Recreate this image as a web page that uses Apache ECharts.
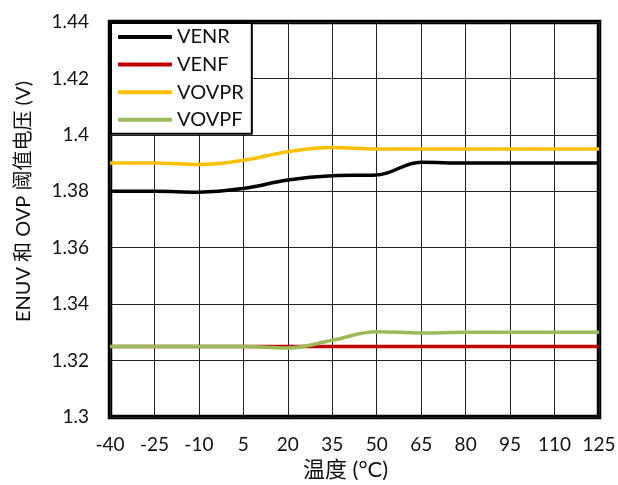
<!DOCTYPE html>
<html>
<head>
<meta charset="utf-8">
<script src="https://cdn.jsdelivr.net/npm/echarts@6/dist/echarts.min.js"></script>
<style>
html,body{margin:0;padding:0;background:#fff;}
#c{width:618px;height:485px;}
</style>
</head>
<body>
<div id="c"></div>
<script>
const temps = ['-40','-25','-10','5','20','35','50','65','80','95','110','125'];
const VENR  = [1.380, 1.380, 1.3797, 1.381, 1.384, 1.3855, 1.3858, 1.3903, 1.390, 1.390, 1.390, 1.390];
const VENF  = [1.325, 1.325, 1.325, 1.325, 1.325, 1.325, 1.325, 1.325, 1.325, 1.325, 1.325, 1.325];
const VOVPR = [1.390, 1.390, 1.3895, 1.391, 1.394, 1.3955, 1.395, 1.395, 1.395, 1.395, 1.395, 1.395];
const VOVPF = [1.325, 1.325, 1.325, 1.325, 1.3245, 1.3272, 1.3302, 1.3298, 1.330, 1.330, 1.330, 1.330];
const yTicks = ['1.3','1.32','1.34','1.36','1.38','1.4','1.42','1.44'];

const font = 'Lato, "Noto Sans CJK SC", sans-serif';
const chart = echarts.init(document.getElementById('c'), null, {renderer:'canvas'});
function mk(name, data, color){
  return {name, type:'line', data, smooth:0.4, symbol:'none',
    lineStyle:{color, width:3.5}, itemStyle:{color}};
}
chart.setOption({
  animation:false,
  backgroundColor:'#fff',
  grid:{left:110, right:19, top:22, bottom:68, outerBoundsMode:'none', containLabel:false,
    show:true, borderColor:'#000', borderWidth:4.5, backgroundColor:'transparent'},
  legend:{
    orient:'vertical', left:111, top:23,
    backgroundColor:'#fff', borderColor:'#000', borderWidth:2,
    padding:[4,8,4,7], itemGap:7.6, itemWidth:54, itemHeight:4,
    icon:'roundRect',
    textStyle:{fontFamily:font, fontSize:20, color:'#111', lineHeight:20},
    data:['VENR','VENF','VOVPR','VOVPF']
  },
  xAxis:{
    type:'category', data:temps, boundaryGap:false,
    name:'温度 (°C)', nameLocation:'middle', nameGap:42,
    nameTextStyle:{fontFamily:font, fontSize:22, color:'#111', padding:[0,18,0,0]},
    axisLine:{show:false}, axisTick:{show:false},
    axisLabel:{fontFamily:font, fontSize:19, color:'#111', margin:18, interval:0},
    splitLine:{show:true, lineStyle:{color:'#222', width:1}}
  },
  yAxis:{
    type:'value', min:1.3, max:1.44, interval:0.02,
    name:'ENUV 和 OVP 阈值电压 (V)', nameLocation:'middle', nameGap:76,
    nameTextStyle:{fontFamily:font, fontSize:20, color:'#111', padding:[0,0,0,36]},
    axisLine:{show:false}, axisTick:{show:false},
    axisLabel:{fontFamily:font, fontSize:19, color:'#111', margin:21,
      formatter:function(v){ const i = Math.round((v-1.3)/0.02); return yTicks[i] !== undefined ? yTicks[i] : ''; }},
    splitLine:{show:true, lineStyle:{color:'#222', width:1}}
  },
  series:[
    mk('VENR', VENR, '#000000'),
    mk('VENF', VENF, '#C00000'),
    mk('VOVPR', VOVPR, '#FFC000'),
    mk('VOVPF', VOVPF, '#9BBB59')
  ]
});
</script>
</body>
</html>
